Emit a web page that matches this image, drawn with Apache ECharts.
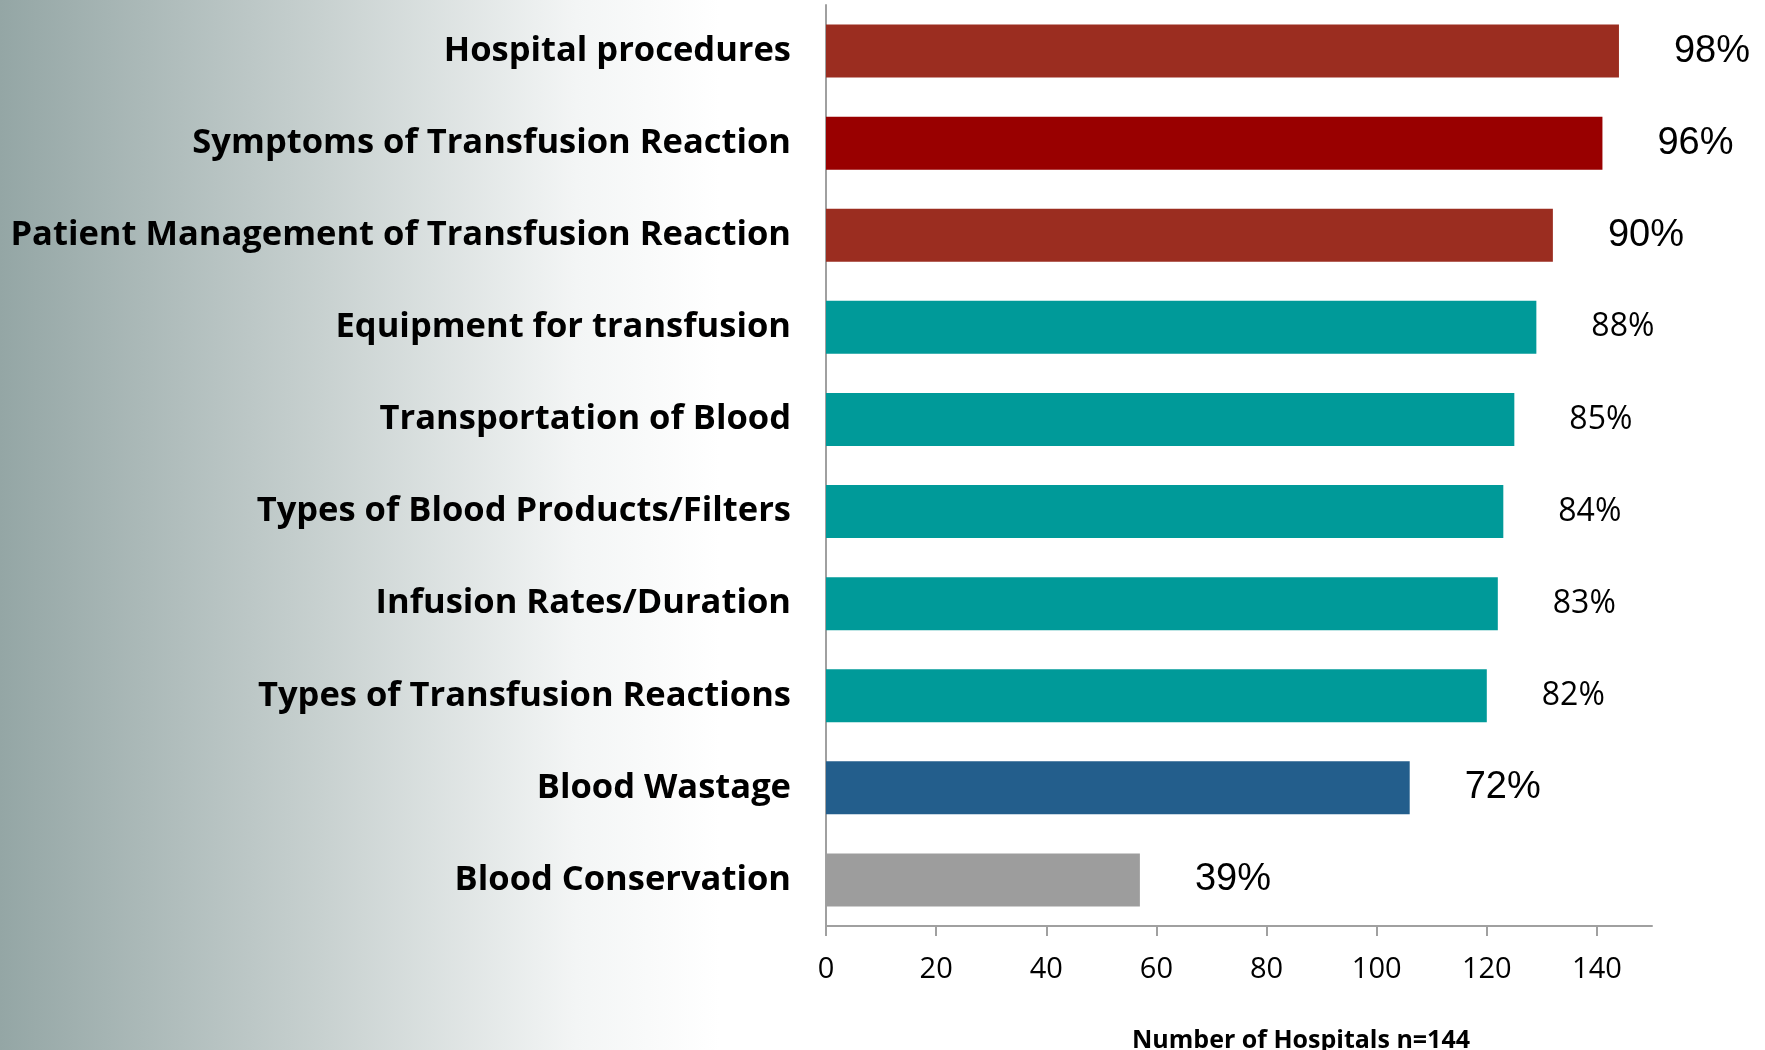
<!DOCTYPE html>
<html>
<head>
<meta charset="utf-8">
<title>Number of Hospitals</title>
<script src="https://cdn.jsdelivr.net/npm/echarts@6/dist/echarts.min.js"></script>
<style>
  html, body { margin: 0; padding: 0; background: #fff; }
  #myEchart { width: 1765px; height: 1050px; }
</style>
</head>
<body>
<div id="myEchart"></div>
<script>
// data
const categories = [
  'Hospital procedures',
  'Symptoms of Transfusion Reaction',
  'Patient Management of Transfusion Reaction',
  'Equipment for transfusion',
  'Transportation of Blood',
  'Types of Blood Products/Filters',
  'Infusion Rates/Duration',
  'Types of Transfusion Reactions',
  'Blood Wastage',
  'Blood Conservation'
]
const hospitals = [144, 141, 132, 129, 125, 123, 122, 120, 106, 57]
const percentLabels = ['98%', '96%', '90%', '88%', '85%', '84%', '83%', '82%', '72%', '39%']
const tickValues = [0, 20, 40, 60, 80, 100, 120, 140]
const axisName = 'Number of Hospitals n=144'

// styles
const barColors = ['#9b2d20', '#990000', '#9b2d20', '#009a99', '#009a99', '#009a99', '#009a99', '#009a99', '#235e8c', '#9d9d9d']
const arialLabel = { fontFamily: '"Liberation Sans", Arial, sans-serif', fontSize: 38 }
const tahomaLabel = { fontFamily: '"Open Sans", sans-serif', fontSize: 32 }

const seriesData = hospitals.map((v, i) => ({
  value: v,
  itemStyle: { color: barColors[i] },
  label: barColors[i] === '#009a99' ? tahomaLabel : arialLabel
}))

const myChart = echarts.init(document.getElementById('myEchart'), null, { renderer: 'canvas' })

const option = {
  animation: false,
  graphic: {
    elements: [
      {
        type: 'rect',
        z: -10,
        silent: true,
        shape: { x: 0, y: 0, width: 720, height: 1050 },
        style: {
          fill: new echarts.graphic.LinearGradient(0, 0, 1, 0, [
            { offset: 0, color: '#94a6a5' },
            { offset: 0.45, color: '#c8d1d0' },
            { offset: 0.8, color: '#f3f5f5' },
            { offset: 1, color: '#ffffff' }
          ])
        }
      }
    ]
  },
  grid: {
    left: 826,
    right: 113,
    top: 5,
    bottom: 124,
    outerBoundsMode: 'none' // 不让v6自动缩小grid
  },
  xAxis: {
    type: 'value',
    min: 0,
    max: 150,
    interval: 20,
    name: axisName,
    nameLocation: 'middle',
    nameGap: 102,
    nameTextStyle: {
      color: '#000',
      fontFamily: '"Open Sans", sans-serif',
      fontWeight: 'bold',
      fontSize: 25,
      padding: [0, 0, 0, 124]
    },
    axisLine: {
      show: true,
      lineStyle: { color: '#a0a0a0', width: 2 }
    },
    axisTick: {
      show: true,
      length: 10,
      customValues: tickValues,
      lineStyle: { color: '#a0a0a0', width: 2 }
    },
    axisLabel: {
      customValues: tickValues,
      margin: 29,
      color: '#000',
      fontFamily: '"Open Sans", sans-serif',
      fontSize: 29
    },
    splitLine: { show: false }
  },
  yAxis: {
    type: 'category',
    inverse: true,
    data: categories,
    axisLine: {
      show: true,
      lineStyle: { color: '#a0a0a0', width: 2 }
    },
    axisTick: { show: false },
    axisLabel: {
      margin: 35,
      color: '#000',
      fontFamily: '"Open Sans", sans-serif',
      fontWeight: 'bold',
      fontSize: 34.5
    }
  },
  series: [
    {
      type: 'bar',
      barWidth: 53,
      data: seriesData,
      label: {
        show: true,
        position: 'right',
        distance: 55,
        color: '#000',
        formatter: (p) => percentLabels[p.dataIndex]
      }
    }
  ]
}

myChart.setOption(option)
</script>
</body>
</html>
